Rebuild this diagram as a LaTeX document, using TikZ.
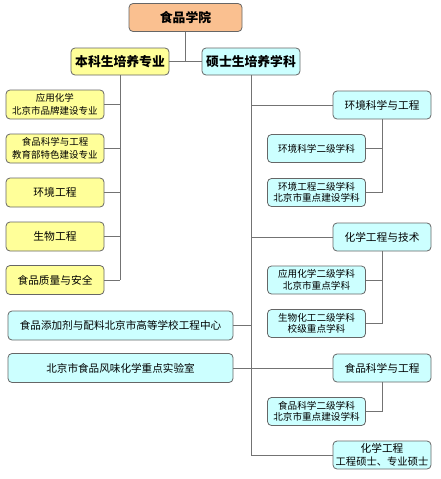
\documentclass[tikz,border=0pt]{standalone}
\usepackage{fontspec}
\setmainfont{Noto Sans CJK SC}
\begin{document}
\begin{tikzpicture}[x=1pt,y=-1pt,
  box/.style={draw=black!60, line width=0.8pt, rounded corners=4pt, align=center, inner sep=1pt, font=\fontsize{9.5}{12.5}\selectfont},
  ybox/.style={box, fill=yfill, minimum width=98pt, minimum height=29pt},
  cbox/.style={box, fill=cfill},
  lvl/.style={cbox, minimum width=98pt, minimum height=28pt, font=\fontsize{10.7}{12}\selectfont},
  sub/.style={cbox, minimum width=98pt, minimum height=28pt, font=\fontsize{9.6}{11.5}\selectfont},
  wide/.style={cbox, minimum width=225pt, minimum height=29pt, font=\fontsize{10.6}{12}\selectfont},
  head/.style={box, minimum width=98pt, minimum height=27pt, font=\fontsize{12.8}{14}\selectfont\bfseries},
  conn/.style={draw=black!55, line width=0.9pt}]
\definecolor{yfill}{HTML}{FFFF99}
\definecolor{cfill}{HTML}{CCFFFF}
\definecolor{ofill}{HTML}{FAC090}
\useasboundingbox (0,0) rectangle (440,479);
\node[head, fill=ofill, minimum width=113pt, minimum height=28pt] (top) at (185.5,17.5) {食品学院};
\node[head, fill=yfill] (bk) at (120,61.5) {本科生培养专业};
\node[head, fill=cfill] (ss) at (251,61.5) {硕士生培养学科};
% left column
\node[ybox] (l1) at (55,104.5) {应用化学\\北京市品牌建设专业};
\node[ybox] (l2) at (55,148.5) {食品科学与工程\\教育部特色建设专业};
\node[ybox, font=\fontsize{10.8}{12}\selectfont] (l3) at (55,192.5) {环境工程};
\node[ybox, font=\fontsize{10.8}{12}\selectfont] (l4) at (55,236.5) {生物工程};
\node[ybox, font=\fontsize{10.7}{12}\selectfont] (l5) at (55,280) {食品质量与安全};
% wide boxes
\node[wide] (w1) at (120.5,325.5) {食品添加剂与配料北京市高等学校工程中心};
\node[wide] (w2) at (120.5,368) {北京市食品风味化学重点实验室};
% right levels
\node[lvl] (r1) at (382,105) {环境科学与工程};
\node[lvl] (r2) at (382,237) {化学工程与技术};
\node[lvl] (r3) at (382,368) {食品科学与工程};
\node[lvl, font=\fontsize{10.3}{13}\selectfont] (r4) at (382,455) {{\fontsize{10.7}{13}\selectfont 化学工程}\\工程硕士、专业硕士};
% sub boxes
\node[sub] (s1) at (316.5,148.5) {环境科学二级学科};
\node[sub] (s2) at (316.5,192.5) {环境工程二级学科\\北京市重点建设学科};
\node[sub] (s3) at (316.5,280) {应用化学二级学科\\北京市重点学科};
\node[sub] (s4) at (316.5,323.5) {生物化工二级学科\\校级重点学科};
\node[sub] (s5) at (316.5,411.5) {食品科学二级学科\\北京市重点建设学科};
% connectors
\draw[conn] (top.south) -- (top.south |- bk.east);
\draw[conn] (bk.east) -- (ss.west);
\draw[conn] (bk.south) -- (bk.south |- l5.east);
\foreach \n in {l1,l2,l3,l4,l5} \draw[conn] (\n.east) -- (bk.south |- \n.east);
\draw[conn] (ss.south) -- (ss.south |- r4.west);
\draw[conn] (ss.south |- r1.west) -- (r1.west);
\draw[conn] (ss.south |- r2.west) -- (r2.west);
\draw[conn] (ss.south |- r4.west) -- (r4.west);
\draw[conn] (w1.east) -- (ss.south |- w1.east);
\draw[conn] (w2.east) -- (r3.west);
\draw[conn] (r1.south) -- (r1.south |- s2.east);
\draw[conn] (s1.east) -- (r1.south |- s1.east);
\draw[conn] (s2.east) -- (r1.south |- s2.east);
\draw[conn] (r2.south) -- (r2.south |- s4.east);
\draw[conn] (s3.east) -- (r2.south |- s3.east);
\draw[conn] (s4.east) -- (r2.south |- s4.east);
\draw[conn] (r3.south) -- (r3.south |- s5.east);
\draw[conn] (s5.east) -- (r3.south |- s5.east);
\end{tikzpicture}
\end{document}
